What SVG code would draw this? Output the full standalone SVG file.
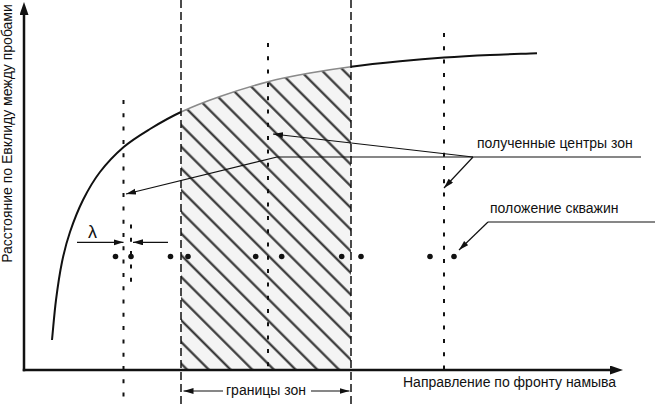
<svg xmlns="http://www.w3.org/2000/svg" width="655" height="405" viewBox="0 0 655 405">
<defs>
<style>
text{font-family:"Liberation Sans",Arial,sans-serif;fill:#111}
.lbl{font-size:14px}
.axis{stroke:#111;stroke-width:2.5;fill:none}
.bound{stroke:#111;stroke-width:1.5;stroke-dasharray:8 4;fill:none}
.center{stroke:#111;stroke-width:2;stroke-dasharray:4 9.3;fill:none}
.lead{stroke:#111;stroke-width:1.2;fill:none}
.well{fill:#111}
.crv{stroke:#111;stroke-width:2;fill:none}
</style>
<pattern id="hatch" patternUnits="userSpaceOnUse" width="10" height="15.34" patternTransform="rotate(45)">
<rect width="10" height="15.34" fill="#f4f4f4"/>
<line x1="-1" y1="6.31" x2="11" y2="6.31" stroke="#2a2a2a" stroke-width="2.1"/>
</pattern>
<marker id="axArr" markerUnits="userSpaceOnUse" markerWidth="14" markerHeight="10" refX="0" refY="4.5" orient="auto">
<path d="M0,0 L13,4.5 L0,9 Z" fill="#111"/>
</marker>
<marker id="arr" markerUnits="userSpaceOnUse" markerWidth="11" markerHeight="7" refX="10" refY="3" orient="auto">
<path d="M0,0 L10,3 L0,6 Z" fill="#111"/>
</marker>
</defs>

<g id="zone">
<path d="M181,112 C192.67,106.58 205.5,101.55 220,96.5 C234.5,91.45 253,85.62 268,81.7 C283,77.78 296.17,75.5 310,73 C323.83,70.5 336,68.65 351,66.7 L351,370 L181,370 Z" fill="url(#hatch)"/>
<path d="M181,112 C192.67,106.58 205.5,101.55 220,96.5 C234.5,91.45 253,85.62 268,81.7 C283,77.78 296.17,75.5 310,73 C323.83,70.5 336,68.65 351,66.7" stroke="#8a8a8a" stroke-width="1.6" fill="none"/>
</g>

<g id="curve">
<path class="crv" d="M52,340 C53.33,326.67 54.33,313 56,300 C57.67,287 59.67,273.33 62,262 C64.33,250.67 66.5,242.33 70,232 C73.5,221.67 78,210 83,200 C88,190 93.22,180.83 100,172 C106.78,163.17 115.37,154.17 123.7,147 C132.03,139.83 140.45,134.83 150,129 C159.55,123.17 169.33,117.42 181,112"/>
<path class="crv" d="M351,66.7 C366,64.75 384.5,62.82 400,61.3 C415.5,59.78 429,58.65 444,57.6 C459,56.55 474.5,55.72 490,55 C505.5,54.28 521.33,53.87 537,53.3"/>
</g>

<g id="boundaries">
<line class="bound" x1="181" y1="0" x2="181" y2="405"/>
<line class="bound" x1="351" y1="0" x2="351" y2="405"/>
</g>

<g id="centers">
<line class="center" x1="123.5" y1="100" x2="123.5" y2="405"/>
<line class="center" x1="268" y1="43" x2="268" y2="370"/>
<line class="center" x1="444" y1="33" x2="444" y2="370"/>
<line class="center" x1="131" y1="224.5" x2="131" y2="287"/>
</g>

<g id="axes">
<line class="axis" x1="24" y1="371.25" x2="24" y2="15" marker-end="url(#axArr)"/>
<line class="axis" x1="22.75" y1="370" x2="610" y2="370" marker-end="url(#axArr)"/>
</g>

<g id="wells">
<circle class="well" cx="115.5" cy="256.5" r="2.8"/>
<circle class="well" cx="131" cy="256.5" r="2.8"/>
<circle class="well" cx="170.5" cy="256.5" r="2.8"/>
<circle class="well" cx="188" cy="256.5" r="2.8"/>
<circle class="well" cx="255.7" cy="256.5" r="2.8"/>
<circle class="well" cx="281.7" cy="256.5" r="2.8"/>
<circle class="well" cx="341.7" cy="256.5" r="2.8"/>
<circle class="well" cx="361" cy="256.5" r="2.8"/>
<circle class="well" cx="430" cy="256.5" r="2.8"/>
<circle class="well" cx="454" cy="256.5" r="2.8"/>
</g>

<g id="connectors">
<line class="lead" x1="277" y1="157" x2="641" y2="157"/>
<line class="lead" x1="277" y1="157" x2="126" y2="194" marker-end="url(#arr)"/>
<line class="lead" x1="473" y1="157" x2="273" y2="134" marker-end="url(#arr)"/>
<line class="lead" x1="473" y1="157" x2="444" y2="188" marker-end="url(#arr)"/>
<line class="lead" x1="488" y1="222" x2="655" y2="222"/>
<line class="lead" x1="488" y1="222" x2="459" y2="250" marker-end="url(#arr)"/>
<line class="lead" x1="77" y1="242.3" x2="123.5" y2="242.3" marker-end="url(#arr)"/>
<line class="lead" x1="168" y1="242.3" x2="133" y2="242.3" marker-end="url(#arr)"/>
<line class="lead" x1="223" y1="391" x2="183.5" y2="391" marker-end="url(#arr)"/>
<line class="lead" x1="311" y1="391" x2="349.5" y2="391" marker-end="url(#arr)"/>
</g>

<g id="labels">
<text class="lbl" transform="translate(12,133.5) rotate(-90)" text-anchor="middle">Расстояние по Евклиду между пробами</text>
<text class="lbl" x="403" y="387">Направление по фронту намыва</text>
<text class="lbl" x="477" y="148">полученные центры зон</text>
<text class="lbl" x="490" y="213">положение скважин</text>
<text class="lbl" x="226" y="395">границы зон</text>
<text x="88" y="238" font-size="18">λ</text>
</g>
</svg>
